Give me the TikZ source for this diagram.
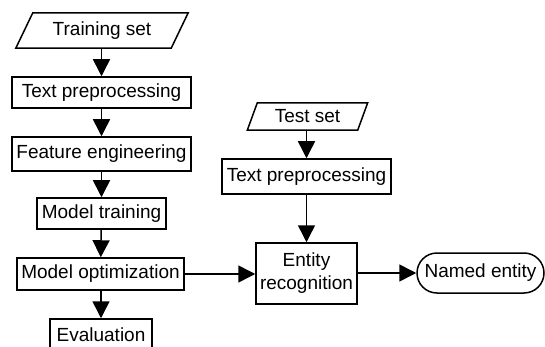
\documentclass[tikz,border=0pt]{standalone}
\usepackage{fontspec}
\setmainfont{Liberation Sans}
\usetikzlibrary{arrows.meta}
\begin{document}
\begin{tikzpicture}[x=1pt,y=-1pt,
  txt/.style={font=\fontsize{19}{23}\selectfont, inner sep=0pt, align=center},
  box/.style={txt, draw, line width=1.5pt},
  frame/.style={line width=1.5pt},
  arr/.style={line width=1.5pt, -{Triangle[length=17pt,width=17pt]}}]
\useasboundingbox (0,0) rectangle (545,347);
\clip (0,0) rectangle (545,347);
% left column
\node[txt, minimum width=155pt, minimum height=35pt] (train) at (102,30.5) {Training set};
\draw[frame] ([xshift=8.5pt]train.north west) -- ([xshift=8.5pt]train.north east)
  -- ([xshift=-8.5pt]train.south east) -- ([xshift=-8.5pt]train.south west) -- cycle;
\node[box, minimum width=179pt, minimum height=31pt] (tp1) at (101.5,92.5) {Text preprocessing};
\node[box, minimum width=179pt, minimum height=34pt] (fe) at (101.5,154) {Feature engineering};
\node[box, minimum width=129pt, minimum height=31pt] (mt) at (101.5,213.5) {Model training};
\node[box, minimum width=167pt, minimum height=32pt] (mo) at (100.5,274) {Model optimization};
\node[box, minimum width=102pt, minimum height=32pt] (ev) at (101,335) {Evaluation};
% right column
\node[txt, minimum width=110pt, minimum height=27pt] (test) at (307.5,116.5) {Test set};
\draw[frame] ([xshift=5pt]test.north west) -- ([xshift=5pt]test.north east)
  -- ([xshift=-5pt]test.south east) -- ([xshift=-5pt]test.south west) -- cycle;
\node[box, minimum width=169pt, minimum height=35pt] (tp2) at (306.5,176.5) {Text preprocessing};
\node[box, minimum width=101pt, minimum height=61pt] (er) at (306.5,273.5) {Entity\\recognition};
\node[box, rounded corners=20pt, minimum width=127pt, minimum height=40pt] (ne) at (480.5,273) {Named entity};
% connectors
\draw[arr] (train.south -| tp1.north) -- (tp1.north);
\draw[arr] (tp1) -- (fe);
\draw[arr] (fe) -- (mt);
\draw[arr] (mt) -- (mo);
\draw[arr] (mo.south -| ev.north) -- (ev.north);
\draw[arr] (test.south -| tp2.north) -- (tp2.north);
\draw[arr] (tp2) -- (er);
\draw[arr] (mo.east) -- (mo.east -| er.west);
\draw[arr] (er.east |- ne.west) -- (ne.west);
\end{tikzpicture}
\end{document}
